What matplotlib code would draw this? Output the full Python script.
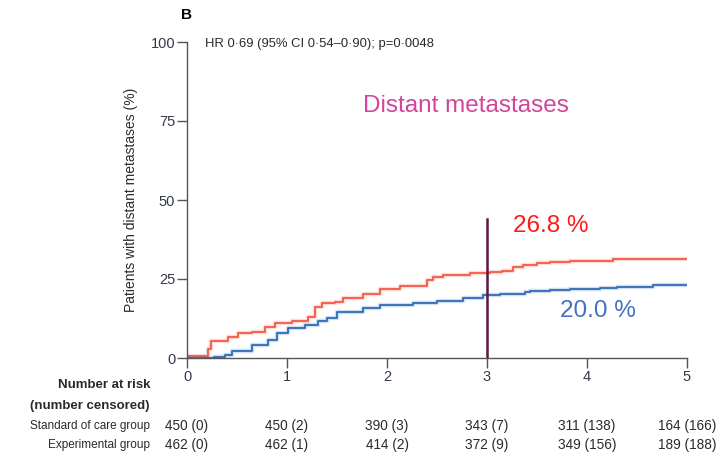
import matplotlib
matplotlib.use("Agg")
import matplotlib.pyplot as plt
from matplotlib import transforms

plt.rcParams["font.family"] = ["Liberation Sans", "DejaVu Sans"]

# Cumulative incidence of distant metastases (%) by year of follow-up (step curves)
soc_t = [0.0, 0.21, 0.24, 0.41, 0.51, 0.65, 0.78, 0.88, 1.05, 1.21, 1.28, 1.35, 1.48,
         1.56, 1.76, 1.93, 2.13, 2.40, 2.46, 2.56, 2.83, 3.03, 3.15, 3.26, 3.36, 3.50,
         3.63, 3.83, 4.26, 5.0]
soc_y = [0.7, 3.0, 5.5, 6.7, 7.8, 8.3, 9.9, 11.0, 11.8, 13.1, 16.2, 17.5, 17.8,
         19.1, 20.2, 21.7, 22.9, 24.7, 25.7, 26.3, 26.8, 27.2, 27.6, 28.9, 29.4, 30.0,
         30.3, 30.7, 31.2, 31.2]

exp_t = [0.0, 0.27, 0.38, 0.45, 0.65, 0.81, 0.90, 1.01, 1.18, 1.31, 1.40, 1.50, 1.76,
         1.93, 2.26, 2.50, 2.76, 2.96, 3.13, 3.38, 3.43, 3.63, 3.83, 4.13, 4.30, 4.66, 5.0]
exp_y = [0.0, 0.3, 0.8, 2.3, 4.1, 5.7, 8.0, 9.4, 10.4, 11.8, 12.8, 14.5, 15.7,
         16.8, 17.3, 18.1, 19.1, 20.0, 20.3, 20.8, 21.2, 21.5, 21.7, 22.0, 22.5, 23.0, 23.0]

years = [0, 1, 2, 3, 4, 5]
soc_at_risk = ["450 (0)", "450 (2)", "390 (3)", "343 (7)", "311 (138)", "164 (166)"]
exp_at_risk = ["462 (0)", "462 (1)", "414 (2)", "372 (9)", "349 (156)", "189 (188)"]

soc_3yr = 26.8
exp_3yr = 20.0

RED = "#f25a45"
BLUE = "#2e6bb8"
GREY = "#555555"
TXT = "#2a2a2a"

fig = plt.figure(figsize=(7.21, 4.55), dpi=100)
ax = fig.add_axes([187 / 721, 1 - 358 / 455, 500 / 721, 316 / 455])

for t, y, c in [(soc_t, soc_y, RED), (exp_t, exp_y, BLUE)]:
    ax.plot(t, y, drawstyle="steps-post", color=c, lw=3.2, alpha=0.22, solid_capstyle="butt")
    ax.plot(t, y, drawstyle="steps-post", color=c, lw=1.3, solid_capstyle="butt")

# 3-year marker
ax.plot([3, 3], [0, 44], color="#5a1840", lw=1.8)

ax.set_xlim(0, 5)
ax.set_ylim(0, 100)
ax.set_xticks(years)
ax.set_yticks([0, 25, 50, 75, 100])
for s in ["top", "right"]:
    ax.spines[s].set_visible(False)
for s in ["left", "bottom"]:
    ax.spines[s].set_color(GREY)
    ax.spines[s].set_linewidth(1.0)
ax.tick_params(direction="out", length=7, width=1.0, color=GREY, labelsize=10.5,
               labelcolor="#33394a", pad=1.5)
ax.set_ylabel("Patients with distant metastases (%)", fontsize=10, color=TXT)
ax.yaxis.set_label_coords(-0.098, 0.5)

ax.text(0.18, 99.5, "HR 0·69 (95% CI 0·54–0·90); p=0·0048", fontsize=9.4,
        color=TXT, va="center", ha="left")
fig.text(186 / 721, 1 - 15 / 455, "B", fontsize=11, fontweight="bold", ha="center", va="center")

ax.text(2.785, 79.7, "Distant metastases", fontsize=17.5, color="#d4449a", ha="center",
        va="center")
ax.text(3.26, soc_3yr + 15.0, f"{soc_3yr} %", fontsize=17.5, color="#ff1a1a", ha="left",
        va="center")
ax.text(3.73, exp_3yr - 5.1, f"{exp_3yr} %", fontsize=17.5, color="#4470c4", ha="left",
        va="center")

# Number-at-risk table under the axis
lab_x = 150 / 721
fig.text(lab_x, 1 - 385 / 455, "Number at risk", fontsize=9.5, fontweight="bold",
         ha="right", va="center", color=TXT)
fig.text(lab_x, 1 - 406 / 455, "(number censored)", fontsize=9.5, fontweight="bold",
         ha="right", va="center", color=TXT)
rows = [("Standard of care group", soc_at_risk, 1 - 426 / 455),
        ("Experimental group", exp_at_risk, 1 - 445 / 455)]
trans = transforms.blended_transform_factory(ax.transData, fig.transFigure)
for name, vals, yy in rows:
    fig.text(lab_x, yy, name, fontsize=8.5, ha="right", va="center", color=TXT)
    for x, v in zip(years, vals):
        ax.text(x, yy, v, transform=trans, fontsize=9.8, ha="center", va="center", color=TXT)

fig.savefig("out.png", dpi=100)
